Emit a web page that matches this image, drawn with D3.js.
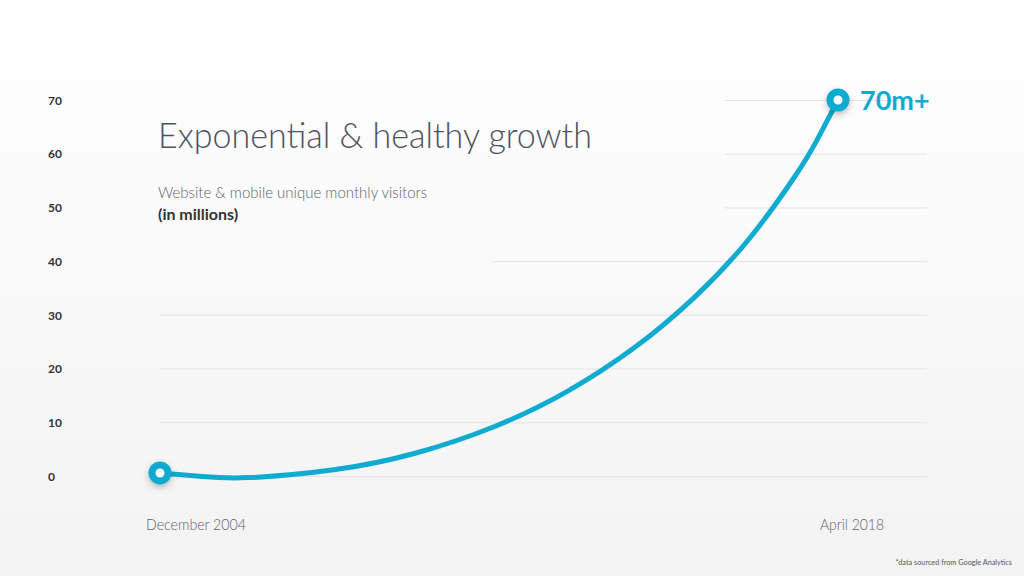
<!DOCTYPE html>
<html><head><meta charset="utf-8">
<script src="https://cdn.jsdelivr.net/npm/d3@7"></script>
<style>
html,body{margin:0;padding:0;background:#fff;}
svg{display:block;}
</style></head>
<body>
<svg id="chart" width="1024" height="576"></svg>
<script>
// ---- data ----
const dates = ["2004-12","2005-10","2006-09","2008-05","2009-12","2011-07","2012-12","2014-04","2015-06","2016-07","2017-06","2017-11","2018-04"];
const visitors = [0.56,-0.1,-0.3,1.15,4.19,9.22,15.71,23.91,33.16,44.13,55.99,62.52,70];
const yTicks = [0,10,20,30,40,50,60,70];
const xLabels = ["December 2004","April 2018"];
const xLabelDates = ["2004-12","2018-04"];
const title = "Exponential & healthy growth";
const subtitle = "Website & mobile unique monthly visitors";
const subtitle2 = "(in millions)";
const endLabel = "70m+";
const footnote = "*data sourced from Google Analytics";

// ---- layout ----
const W = 1024, H = 576;
const blue = "#0fabd0";
const parse = d3.timeParse("%Y-%m");
const data = dates.map((d,i)=>({date:parse(d), v:visitors[i]}));

const svg = d3.select("#chart");
const defs = svg.append("defs");
const bg = defs.append("linearGradient").attr("id","bg").attr("x1",0).attr("y1",0).attr("x2",0).attr("y2",1);
bg.append("stop").attr("offset","0%").attr("stop-color","#ffffff");
bg.append("stop").attr("offset","100%").attr("stop-color","#f3f3f3");
const sh = defs.append("filter").attr("id","shadow").attr("x","-100%").attr("y","-100%").attr("width","300%").attr("height","300%");
sh.append("feDropShadow").attr("dx",0).attr("dy",3).attr("stdDeviation",3).attr("flood-color","#000").attr("flood-opacity",0.25);

svg.append("rect").attr("width",W).attr("height",H).attr("fill","url(#bg)");

const x = d3.scaleTime().domain([parse("2004-12"), parse("2018-04")]).range([160, 838]);
const y = d3.scaleLinear().domain([0,70]).range([476, 100]);

// gridlines (start positions avoid the title block)
const gridStart = v => v >= 50 ? 725 : (v >= 40 ? 492 : 160);
svg.append("g").selectAll("line").data(yTicks).join("line")
  .attr("x1", d=>gridStart(d)).attr("x2", 927)
  .attr("y1", d=>y(d)+0.5).attr("y2", d=>y(d)+0.5)
  .attr("stroke","#e3e3e3").attr("stroke-width",1);

// y axis labels
const yAxis = d3.axisLeft(y).tickValues(yTicks).tickSize(0).tickPadding(0);
const gy = svg.append("g").attr("transform","translate(48,0)").call(yAxis);
gy.select(".domain").remove();
gy.selectAll("text").attr("text-anchor","start").attr("x",0).attr("dy","0.35em")
  .attr("font-family","Lato, 'Open Sans', sans-serif").attr("font-weight",700)
  .attr("font-size",12).attr("fill","#333");

// x labels
const xLabelWidths = [100, 64];
const xLabelOffsets = [-14, -18];
svg.append("g").selectAll("text").data(xLabels).join("text")
  .attr("x",(d,i)=>x(parse(xLabelDates[i]))+xLabelOffsets[i]).attr("y",530)
  .attr("font-family","Lato, sans-serif").attr("font-weight",300)
  .attr("font-size",15.5).attr("fill","#5f6068")
  .attr("textLength",(d,i)=>xLabelWidths[i]).attr("lengthAdjust","spacingAndGlyphs")
  .text(d=>d);

// title block
svg.append("text").attr("x",158).attr("y",148)
  .attr("font-family","Lato, sans-serif").attr("font-weight",300)
  .attr("font-size",36).attr("fill","#4e5260")
  .attr("textLength",434).attr("lengthAdjust","spacingAndGlyphs").text(title);
svg.append("text").attr("x",158).attr("y",198)
  .attr("font-family","Lato, sans-serif").attr("font-weight",300)
  .attr("font-size",15).attr("fill","#5d5f66").text(subtitle);
svg.append("text").attr("x",158).attr("y",220)
  .attr("font-family","Lato, sans-serif").attr("font-weight",700)
  .attr("font-size",16).attr("fill","#333").text(subtitle2);

// line
const line = d3.line().x(d=>x(d.date)).y(d=>y(d.v)).curve(d3.curveNatural);
svg.append("path").datum(data).attr("d",line)
  .attr("fill","none").attr("stroke",blue).attr("stroke-width",5).attr("stroke-linecap","round");

// end markers
const ends = [data[0], data[data.length-1]];
svg.append("g").selectAll("circle").data(ends).join("circle")
  .attr("cx",d=>x(d.date)).attr("cy",d=>y(d.v))
  .attr("r",8).attr("fill","#fff").attr("stroke",blue).attr("stroke-width",7)
  .attr("filter","url(#shadow)");

// end label
const last = data[data.length-1];
svg.append("text").attr("x",x(last.date)+22).attr("y",y(last.v)+10)
  .attr("font-family","Lato, sans-serif").attr("font-weight",700)
  .attr("font-size",27).attr("fill",blue).text(endLabel);

// footnote
svg.append("text").attr("x",1012).attr("y",565).attr("text-anchor","end")
  .attr("font-family","Lato, sans-serif").attr("font-size",7.3).attr("fill","#555").text(footnote);
</script>
</body></html>
